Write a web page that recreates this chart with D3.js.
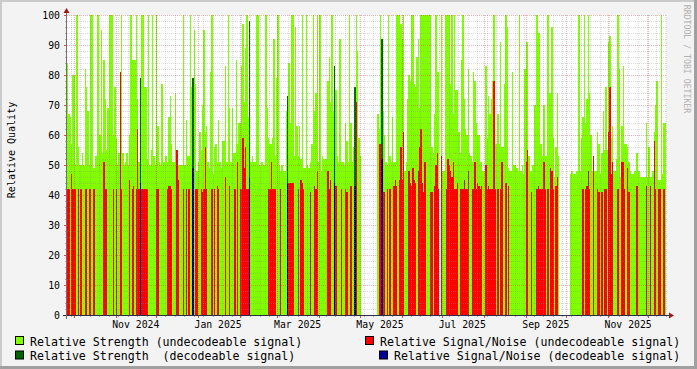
<!DOCTYPE html>
<html><head><meta charset="utf-8">
<script src="https://cdn.jsdelivr.net/npm/d3@7"></script>
<style>body{margin:0;background:#f3f3f3}svg{display:block}</style>
</head><body><svg id="c" width="697" height="369"></svg>
<script>
// ---- data (daily values, day 0 = 2024-09-26 UTC) ----
const firstDay = "2024-09-26";
const strength = [
84,67,66,57,80,80,50,100,56,50,
50,54,50,82,76,68,50,100,100,49,
49,53,100,100,60,95,54,85,72,55,
69,100,100,100,60,76,59,50,54,52,
100,54,50,51,54,50,60,100,85,85,
85,100,72,51,null,100,100,76,76,52,
100,50,55,100,53,50,100,63,51,50,
77,51,51,53,51,66,73,57,51,51,
74,55,50,50,50,50,100,50,65,53,
53,100,76,null,95,77,48,51,61,55,
70,95,61,63,51,49,81,100,47,56,
57,51,65,51,49,58,58,83,51,100,
69,51,69,54,54,85,57,64,64,83,
97,71,89,100,66,null,51,53,51,51,
100,100,50,50,51,50,50,100,69,59,
57,57,59,92,53,79,100,50,48,50,
48,48,68,null,84,64,100,100,53,96,
63,53,63,52,100,49,49,100,50,49,
51,57,100,68,74,100,51,100,48,53,
52,52,52,78,86,71,100,68,null,75,
53,51,92,51,51,50,64,58,51,100,
64,51,56,null,100,88,59,53,null,null,
null,null,null,null,null,null,null,null,null,null,
67,62,100,null,68,60,51,50,100,53,
51,66,51,51,100,100,100,97,92,100,
48,51,72,80,78,100,100,77,76,86,
92,69,100,100,100,100,100,100,100,100,
56,54,67,100,81,81,null,100,48,48,
100,100,100,100,77,100,67,100,75,75,
61,54,85,100,72,62,60,82,54,53,
51,81,78,64,60,60,51,51,48,48,
83,59,73,67,72,78,100,57,57,67,
57,91,56,56,77,100,96,49,48,48,
81,50,50,49,48,100,48,50,47,82,
91,91,53,48,48,50,70,70,100,94,
94,57,53,70,53,53,100,74,74,96,
59,46,56,74,53,null,null,null,null,null,
null,null,null,47,48,47,47,48,48,100,
48,59,66,100,64,72,100,74,60,48,
47,48,48,61,57,47,54,68,55,76,
55,91,93,59,63,48,48,52,100,82,
46,63,83,57,57,56,51,48,47,47,
48,48,54,48,48,46,46,46,46,64,
46,56,46,46,48,61,70,78,45,45,
100,47,64,64];
const snr = [
42,42,0,47,42,42,42,0,42,0,
42,0,0,42,42,0,42,42,0,42,
42,0,0,0,0,0,0,51,42,42,
0,0,0,0,42,0,42,0,0,81,
42,0,0,0,0,0,45,0,42,43,
0,42,62,42,null,42,42,42,42,42,
0,0,0,0,0,0,42,42,0,0,
0,0,0,0,42,43,43,42,0,0,
0,55,45,0,0,0,42,0,42,0,
42,0,0,null,0,42,42,0,0,42,
41,42,56,42,0,0,0,42,0,42,
0,43,42,0,0,0,0,46,0,0,
43,0,0,0,42,0,51,0,42,42,
59,49,56,42,42,null,0,0,0,0,
0,0,0,0,0,0,0,0,0,42,
42,51,42,42,42,0,0,0,42,0,
0,0,0,null,44,44,44,44,0,0,
0,42,0,45,44,42,0,0,0,0,
41,0,0,43,42,48,0,0,0,0,
0,0,0,48,42,45,0,0,null,43,
0,0,0,42,0,0,42,41,0,0,
43,0,0,null,71,0,0,0,null,null,
null,null,null,null,null,null,null,null,null,null,
0,57,57,null,41,41,0,42,0,42,
0,0,43,45,43,0,45,56,45,61,
0,0,0,48,44,43,49,45,44,0,
48,56,62,44,41,51,0,0,0,41,
41,0,43,50,54,42,null,53,0,0,
0,42,52,50,48,46,51,42,42,44,
0,42,42,42,45,42,42,48,0,0,
42,42,51,42,44,43,42,43,0,0,
50,42,43,42,42,42,78,42,0,42,
0,42,51,0,0,44,0,43,0,0,
0,0,0,0,0,0,0,0,0,0,
51,55,0,0,41,0,0,0,42,43,
42,42,42,51,42,0,42,0,49,48,
42,0,43,46,0,null,null,null,null,null,
null,null,null,0,0,0,0,0,0,0,
0,0,42,0,42,43,48,42,0,0,
53,0,0,42,41,0,41,0,42,42,
0,61,76,47,51,0,0,0,42,0,
0,51,51,42,0,49,41,0,0,0,
0,0,43,0,0,0,0,0,0,43,
0,0,43,0,0,58,42,0,42,42,
0,0,42,0];
const decDays     = [54, 93, 135, 163, 198, 213, 233];
const decStrength = [79, 79, 98, 73, 83, 76, 92];
const decSnr      = [44, 49, 46, 44, 44, 43, 52];
const yTickValues = [0,10,20,30,40,50,60,70,80,90,100];
const xLabelMonths = ["2024-11","2025-01","2025-03","2025-05","2025-07","2025-09","2025-11"];
const legendNames = ["Relative Strength (undecodeable signal)","Relative Signal/Noise (undecodeable signal)",
                     "Relative Strength  (decodeable signal)","Relative Signal/Noise (decodeable signal)"];
const colors = {strength:"#7fff00", snr:"#ff0000", decStrength:"#006400", decSnr:"#000099"};

// ---- layout ----
const W=697,H=369, X0=67, X1=667, Y0=315, Y1=15;
const DAY=86400000;
const t0 = Date.parse(firstDay+"T00:00:00Z");
const svg=d3.select("#c");
const FONT="DejaVu Sans Mono, monospace";

const x=d3.scaleUtc().domain([new Date(t0), new Date(t0+444.8*DAY)]).range([X0,X1]);
const y=d3.scaleLinear().domain([0,100]).range([Y0,Y1]);

// background & frame
svg.append("rect").attr("width",W).attr("height",H).attr("fill","#f3f3f3");
svg.append("rect").attr("x",0).attr("y",0).attr("width",W).attr("height",2).attr("fill","#cbcbcb");
svg.append("rect").attr("x",0).attr("y",0).attr("width",2).attr("height",H).attr("fill","#cbcbcb");
svg.append("rect").attr("x",0).attr("y",H-3).attr("width",W).attr("height",3).attr("fill","#a0a0a0");
svg.append("rect").attr("x",W-3).attr("y",0).attr("width",3).attr("height",H).attr("fill","#a0a0a0");
svg.append("rect").attr("x",X0).attr("y",Y1).attr("width",X1-X0).attr("height",Y0-Y1).attr("fill","#fff");

// series areas
function pts(arr){
  const p=[];
  arr.forEach((v,i)=>{
    const s=new Date(t0+i*DAY), e=new Date(t0+(i+1)*DAY);
    p.push({t:s,v:v},{t:e,v:v});
  });
  return p;
}
const area=d3.area().defined(d=>d.v!=null).x(d=>x(d.t)).y0(y(0)).y1(d=>y(d.v));
const nDays=strength.length;
const decS=new Array(nDays).fill(null), decR=new Array(nDays).fill(null);
decDays.forEach((d,k)=>{decS[d]=decStrength[k]; decR[d]=decSnr[k];});
const g=svg.append("g").attr("shape-rendering","crispEdges");
g.append("path").attr("d",area(pts(strength))).attr("fill",colors.strength);
g.append("path").attr("d",area(pts(snr))).attr("fill",colors.snr);
g.append("path").attr("d",area(pts(decS))).attr("fill",colors.decStrength);
g.append("path").attr("d",area(pts(decR))).attr("fill",colors.decSnr);

// grid (drawn over data, like rrdtool)
const grid=svg.append("g").attr("shape-rendering","crispEdges");
const minorCol="rgba(140,140,140,0.32)", majorCol="rgba(222,48,48,0.38)";
for(let v=2; v<=100; v+=2){
  const major=v%10===0;
  grid.append("line").attr("x1",X0).attr("x2",X1).attr("y1",y(v)+0.5).attr("y2",y(v)+0.5)
    .attr("stroke",major?majorCol:minorCol).attr("stroke-dasharray","1,1");
  grid.append("line").attr("x1",X0-(major?3:2)).attr("x2",X0).attr("y1",y(v)+0.5).attr("y2",y(v)+0.5)
    .attr("stroke",major?"#d05050":"#aaa");
}
const weeks=d3.utcSunday.range(x.domain()[0], x.domain()[1]);
weeks.forEach(w=>{
  const px=Math.round(x(w))+0.5;
  grid.append("line").attr("x1",px).attr("x2",px).attr("y1",Y1).attr("y2",Y0).attr("stroke",minorCol).attr("stroke-dasharray","1,1");
  grid.append("line").attr("x1",px).attr("x2",px).attr("y1",Y0).attr("y2",Y0+2).attr("stroke","#aaa");
});
const months=d3.utcMonth.range(x.domain()[0], x.domain()[1]);
months.forEach(m=>{
  const px=Math.round(x(m))+0.5;
  grid.append("line").attr("x1",px).attr("x2",px).attr("y1",Y1).attr("y2",Y0).attr("stroke",majorCol).attr("stroke-dasharray","1,1");
  grid.append("line").attr("x1",px).attr("x2",px).attr("y1",Y0).attr("y2",Y0+3).attr("stroke","#d05050");
});

// axes
const ax=svg.append("g").attr("shape-rendering","crispEdges");
ax.append("line").attr("x1",X0-4).attr("x2",X1+4).attr("y1",Y0+0.5).attr("y2",Y0+0.5).attr("stroke","#2c2c4c");
ax.append("line").attr("x1",X0-0.5).attr("x2",X0-0.5).attr("y1",Y0+4).attr("y2",Y1-4).attr("stroke","#707070");
svg.append("path").attr("d",`M${X1+2},${Y0+0.5-3}L${X1+7},${Y0+0.5}L${X1+2},${Y0+0.5+3}Z`).attr("fill","#a01818");
svg.append("path").attr("d",`M${X0-0.5-3},${Y1-2}L${X0-0.5},${Y1-7}L${X0-0.5+3},${Y1-2}Z`).attr("fill","#a01818");

// tick labels
yTickValues.forEach(v=>{
  svg.append("text").attr("x",60).attr("y",y(v)+3.6).attr("text-anchor","end")
    .attr("font-family",FONT).attr("font-size",9.8).attr("fill","#000").text(v);
});
const fmt=d3.utcFormat("%b %Y");
xLabelMonths.forEach(m=>{
  const d=new Date(Date.parse(m+"-16T00:00:00Z"));
  svg.append("text").attr("x",x(d)).attr("y",328).attr("text-anchor","middle")
    .attr("font-family",FONT).attr("font-size",9.8).attr("fill","#000").text(fmt(d));
});

// y label
svg.append("text").attr("transform","translate(15,150) rotate(-90)").attr("text-anchor","middle")
  .attr("font-family",FONT).attr("font-size",10).attr("fill","#000").text("Relative Quality");
// watermark
svg.append("text").attr("transform","translate(684,59) rotate(90)").attr("text-anchor","middle")
  .attr("font-family",FONT).attr("font-size",8.2).attr("fill","#b0b0b0").text("RRDTOOL / TOBI OETIKER");

// legend
const legendPos=[{bx:15,by:336,tx:30,ty:345.5},{bx:365,by:336,tx:380,ty:345.5},
                 {bx:15,by:350.5,tx:30,ty:360},{bx:379,by:350.5,tx:394,ty:360}];
const legendColors=[colors.strength,colors.snr,colors.decStrength,colors.decSnr];
legendNames.forEach((n,i)=>{
  const p=legendPos[i];
  svg.append("rect").attr("x",p.bx+0.5).attr("y",p.by+0.5).attr("width",8).attr("height",8)
    .attr("fill",legendColors[i]).attr("stroke","#000").attr("stroke-width",1);
  svg.append("text").attr("x",p.tx).attr("y",p.ty).attr("font-family",FONT).attr("font-size",11.6)
    .attr("fill","#000").attr("xml:space","preserve").style("white-space","pre").text(n);
});
</script></body></html>
